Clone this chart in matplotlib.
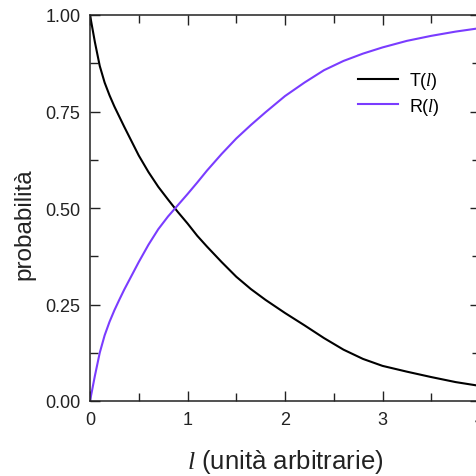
import matplotlib
matplotlib.use("Agg")
import matplotlib.pyplot as plt
from matplotlib.ticker import MultipleLocator

# ==============================
# Data
# ==============================
l_vals = [0.0, 0.05, 0.1, 0.15, 0.2, 0.25, 0.3, 0.35, 0.4, 0.5, 0.6, 0.7,
          0.8, 0.9, 1.0, 1.1, 1.2, 1.35, 1.5, 1.65, 1.8, 2.0, 2.2, 2.4,
          2.6, 2.8, 3.0, 3.25, 3.5, 3.75, 4.0]
T_vals = [1.0, 0.93, 0.868, 0.825, 0.792, 0.763, 0.737, 0.711, 0.686, 0.636,
          0.593, 0.555, 0.522, 0.49, 0.46, 0.428, 0.40, 0.36, 0.322, 0.29,
          0.262, 0.228, 0.196, 0.163, 0.133, 0.109, 0.091, 0.076, 0.062,
          0.049, 0.039]
R_vals = [0.0, 0.065, 0.125, 0.17, 0.205, 0.235, 0.262, 0.288, 0.312, 0.36,
          0.405, 0.445, 0.478, 0.507, 0.536, 0.566, 0.597, 0.64, 0.68,
          0.715, 0.748, 0.79, 0.825, 0.857, 0.881, 0.90, 0.916, 0.933,
          0.946, 0.957, 0.966]

y_ticks = [0.0, 0.25, 0.5, 0.75, 1.0]
y_ticklabels = ["0.00", "0.25", "0.50", "0.75", "1.00"]
x_ticks = [0, 1, 2, 3, 4]

purple = "#7a3cff"
ink = "#222222"

plt.rcParams["font.family"] = ["Liberation Sans", "DejaVu Sans"]
plt.rcParams["mathtext.fontset"] = "custom"
plt.rcParams["mathtext.it"] = "Liberation Serif:italic"
plt.rcParams["mathtext.rm"] = "Liberation Sans"

# ==============================
# Plot
# ==============================
fig = plt.figure(figsize=(4.76, 4.77), dpi=100)
ax = fig.add_axes([90 / 476, 75 / 477, 390 / 476, 386 / 477])

ax.plot(l_vals, T_vals, color="black", lw=1.5, label="T($l$)")
ax.plot(l_vals, R_vals, color=purple, lw=1.5, label="R($l$)")

ax.set_xlim(0, 4)
ax.set_ylim(0, 1)
ax.set_xticks(x_ticks)
ax.set_yticks(y_ticks)
ax.set_yticklabels(y_ticklabels)
ax.xaxis.set_minor_locator(MultipleLocator(0.5))
ax.yaxis.set_minor_locator(MultipleLocator(0.125))

ax.tick_params(which="both", direction="in", top=True, right=True,
               width=1, labelsize=13, pad=7, colors=ink)
ax.tick_params(which="major", length=7)
ax.tick_params(which="minor", length=6)
for s in ax.spines.values():
    s.set_linewidth(1.1)
    s.set_color(ink)

ax.set_xlabel("$l$ (unità arbitrarie)", fontsize=18.5, color=ink)
ax.set_ylabel("probabilità", fontsize=17.5, color=ink)
ax.xaxis.set_label_coords(0.5, -0.118)
ax.yaxis.set_label_coords(-0.139, 0.46)

ax.legend(loc="upper left", bbox_to_anchor=(0.687, 0.857), frameon=False,
          borderpad=0, borderaxespad=0, fontsize=13, handlelength=2.2,
          handletextpad=0.65, labelspacing=0.25)

fig.savefig("out.png", dpi=100)
